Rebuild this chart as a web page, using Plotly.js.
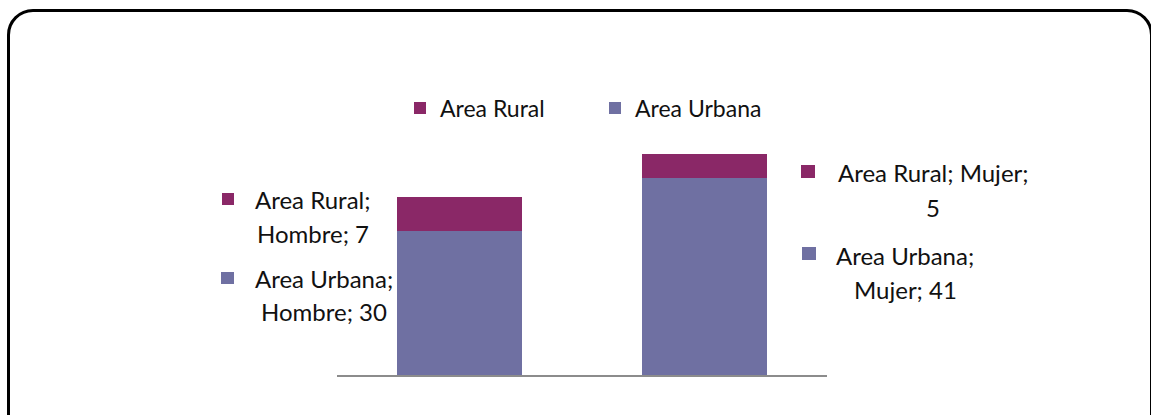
<!DOCTYPE html>
<html>
<head>
<meta charset="utf-8">
<script src="https://cdn.plot.ly/plotly-3.0.1.min.js"></script>
<style>
  html, body { margin: 0; padding: 0; width: 1151px; height: 415px; overflow: hidden; background: #fff; }
  #frame { position: absolute; left: 7px; top: 9px; width: 1146px; height: 440px;
           border: 3px solid #000; border-radius: 26px; box-sizing: border-box; }
  #chart { position: absolute; left: 0; top: 0; width: 1151px; height: 415px; }
</style>
</head>
<body>
<div id="frame"></div>
<div id="chart"></div>
<script>
const categories = ["Hombre", "Mujer"];
const urbanaValues = [30, 41];
const ruralValues = [7, 5];
const seriesNames = ["Area Urbana", "Area Rural"];
const colors = { urbana: "#6F70A2", rural: "#8A2867" };

const FONT = "Lato, 'Open Sans', sans-serif";
const FS = 24;
const LFS = 23;

// plot area in pixels (for placing label blocks)
const L = 337, T = 135, W = 490, H = 240;
const px = x => (x - L) / W;
const py = y => (T + H - y) / H;

const traces = [
  { type: "bar", name: seriesNames[0], x: categories, y: urbanaValues,
    marker: { color: colors.urbana }, hoverinfo: "none" },
  { type: "bar", name: seriesNames[1], x: categories, y: ruralValues,
    marker: { color: colors.rural }, hoverinfo: "none" }
];

// label lines (text built from data arrays)
const labelSpecs = [
  { lines: [seriesNames[1] + ";", categories[0] + "; " + ruralValues[0]], cx: 313, ys: [199, 233],
    sq: [222, 193, 234, 205], color: colors.rural },
  { lines: [seriesNames[0] + ";", categories[0] + "; " + urbanaValues[0]], cx: 324, ys: [278, 311],
    sq: [221, 272, 234, 284], color: colors.urbana },
  { lines: [seriesNames[1] + "; " + categories[1] + ";", String(ruralValues[1])], cx: 933, ys: [172, 207],
    sq: [801, 165, 815, 178], color: colors.rural },
  { lines: [seriesNames[0] + ";", categories[1] + "; " + urbanaValues[1]], cx: 905, ys: [255, 289],
    sq: [802, 247, 816, 260], color: colors.urbana }
];

const annotations = [];
const shapes = [];
labelSpecs.forEach(s => {
  s.lines.forEach((t, i) => {
    annotations.push({ xref: "paper", yref: "paper", x: px(s.cx), y: py(s.ys[i]),
      xanchor: "center", yanchor: "middle", text: t, showarrow: false,
      font: { family: FONT, size: FS, color: "#111" } });
  });
  shapes.push({ type: "rect", xref: "paper", yref: "paper",
    x0: px(s.sq[0]), x1: px(s.sq[2]), y0: py(s.sq[3]), y1: py(s.sq[1]),
    fillcolor: s.color, line: { width: 0 } });
});

const layout = {
  width: 1151, height: 415,
  margin: { l: L, r: 1151 - L - W, t: T, b: 415 - T - H },
  paper_bgcolor: "rgba(0,0,0,0)", plot_bgcolor: "rgba(0,0,0,0)",
  barmode: "stack", bargap: 0.49,
  showlegend: true,
  legend: { orientation: "h", traceorder: "reversed", x: px(400), xanchor: "left",
    y: py(108), yanchor: "middle", font: { family: FONT, size: LFS, color: "#111" },
    entrywidth: 150, entrywidthmode: "pixels", bgcolor: "rgba(0,0,0,0)" },
  xaxis: { type: "category", range: [-0.5, 1.5], showticklabels: false, ticks: "",
    showline: true, linecolor: "#8C8C8C", linewidth: 2, showgrid: false, zeroline: false, fixedrange: true },
  yaxis: { range: [0, 50], visible: false, showgrid: false, zeroline: false, fixedrange: true },
  annotations: annotations, shapes: shapes
};

Plotly.newPlot("chart", traces, layout, { displayModeBar: false, staticPlot: true });
</script>
</body>
</html>
